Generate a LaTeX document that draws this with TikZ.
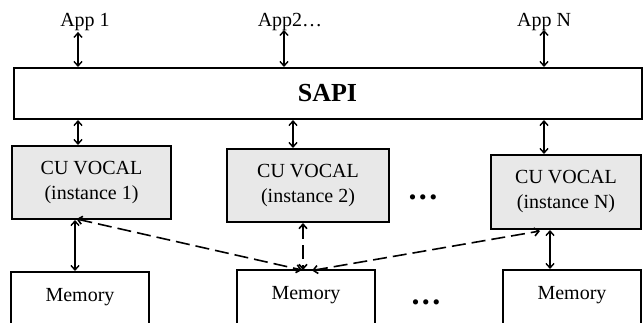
\documentclass[tikz,border=0pt]{standalone}
\usepackage{fontspec}
\setmainfont{Liberation Serif}
\usetikzlibrary{arrows.meta}
\definecolor{cugrey}{HTML}{E8E8E8}
\tikzset{
  box/.style={draw=black, line width=2pt, inner sep=0pt, align=center, font=\fontsize{20}{25}\selectfont},
  cubox/.style={box, fill=cugrey},
  membox/.style={box, anchor=north, minimum width=138pt, text height=29pt, text depth=60pt},
  apptext/.style={font=\fontsize{20}{23}\selectfont, inner sep=2pt},
  conn/.style={line width=1.4pt, {Straight Barb[length=4.5pt,width=8pt]}-{Straight Barb[length=4.5pt,width=8pt]}},
  dconn/.style={conn, line width=1.6pt, dash pattern=on 14pt off 6pt},
  dots/.style={font=\fontsize{32}{32}\bfseries\selectfont, inner sep=0pt}
}
\begin{document}
\begin{tikzpicture}[x=1pt, y=-1pt]
\useasboundingbox (0,0) rectangle (643,322);
% applications
\node[apptext] (app1) at (85,22) {App 1};
\node[apptext] (app2) at (290,22) {App2…};
\node[apptext] (appn) at (544,22) {App N};
% SAPI
\node[box, minimum width=628pt, minimum height=51pt, font=\fontsize{26}{26}\bfseries\selectfont] (sapi) at (327.5,93.5) {SAPI};
% CU VOCAL instances
\node[cubox, minimum width=159pt, minimum height=73pt] (cu1) at (91.5,182.5) {CU VOCAL\\(instance 1)};
\node[cubox, minimum width=162pt, minimum height=73pt] (cu2) at (308,185.5) {CU VOCAL\\(instance 2)};
\node[cubox, minimum width=150pt, minimum height=74pt] (cun) at (566,192) {CU VOCAL\\(instance N)};
% memories
\node[membox] (mem1) at (80,271) {Memory};
\node[membox] (mem2) at (306,269) {Memory};
\node[membox] (memn) at (572,269) {Memory};
% dots
\node[dots] (dots1) at (423,197) {.\hspace{2.5pt}.\hspace{2.5pt}.};
\node[dots] (dots2) at (426,302) {.\hspace{2.5pt}.\hspace{2.5pt}.};
% app <-> SAPI
\draw[conn] ([xshift=-7pt,yshift=1pt]app1.south) -- ([xshift=-7pt]app1.south |- sapi.north);
\draw[conn] ([xshift=-6pt,yshift=3pt]app2.south) -- ([xshift=-6pt]app2.south |- sapi.north);
\draw[conn] ([yshift=3pt]appn.south) -- (appn.south |- sapi.north);
% SAPI <-> CU
\draw[conn] ([xshift=-13.5pt]cu1.north |- sapi.south) -- ([xshift=-13.5pt]cu1.north);
\draw[conn] ([xshift=-15pt]cu2.north |- sapi.south) -- ([xshift=-15pt]cu2.north);
\draw[conn] ([xshift=-22pt]cun.north |- sapi.south) -- ([xshift=-22pt]cun.north);
% CU <-> memory
\draw[conn] ([xshift=-16.5pt]cu1.south) -- ([xshift=-16.5pt]cu1.south |- mem1.north);
\draw[dconn] ([xshift=-5pt]cu2.south) -- ([xshift=-3pt,yshift=-1pt]mem2.north);
\draw[conn] ([xshift=-16pt]cun.south) -- ([xshift=-16pt]cun.south |- memn.north);
% cross links
\draw[dconn] ([xshift=-15pt,yshift=1pt]cu1.south) -- ([xshift=-4pt,yshift=-1pt]mem2.north);
\draw[dconn] ([xshift=6pt,yshift=-1.5pt]mem2.north) -- ([xshift=-26pt,yshift=-1pt]cun.south);
\end{tikzpicture}
\end{document}
